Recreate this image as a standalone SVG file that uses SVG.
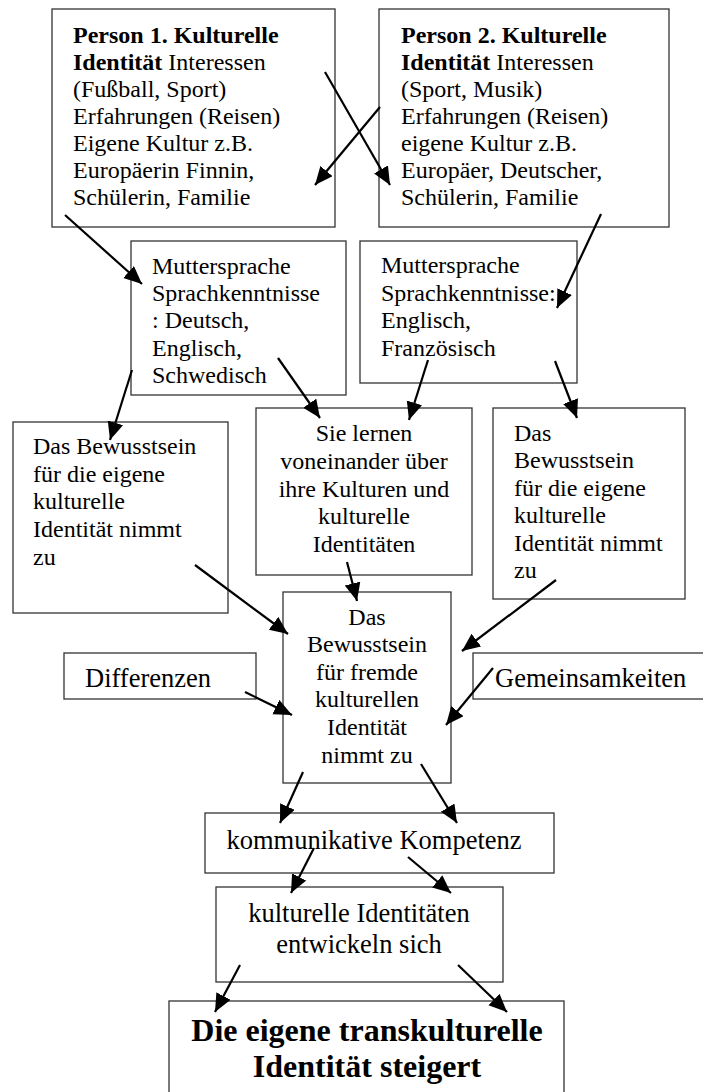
<svg xmlns="http://www.w3.org/2000/svg" width="703" height="1092" viewBox="0 0 703 1092">
<style>
.box{fill:#fff;stroke:#333;stroke-width:1.3}
text{font-family:"Liberation Serif","Times New Roman",serif;font-size:24px;fill:#000}
.m{font-size:26.5px}
.c{text-anchor:middle}
.b{font-weight:bold}
.big{font-size:32px;font-weight:bold;text-anchor:middle}
.arr{stroke:#000;stroke-width:2.2;fill:none;marker-end:url(#ah)}
</style>
<defs>
<marker id="ah" markerUnits="userSpaceOnUse" markerWidth="20" markerHeight="18" refX="18" refY="8" orient="auto">
<path d="M0,0 L18,8 L0,16 z" fill="#000"/>
</marker>
</defs>
<rect width="703" height="1092" fill="#fff"/>
<g id="person1">
<rect class="box" x="52" y="9" width="283" height="218"/>
<text x="73" y="43"><tspan class="b">Person 1. Kulturelle</tspan></text>
<text x="73" y="70"><tspan class="b">Identität</tspan> Interessen</text>
<text x="73" y="97">(Fußball, Sport)</text>
<text x="73" y="124">Erfahrungen (Reisen)</text>
<text x="73" y="151">Eigene Kultur z.B.</text>
<text x="73" y="178">Europäerin Finnin,</text>
<text x="73" y="205">Schülerin, Familie</text>
</g>
<g id="person2">
<rect class="box" x="379" y="9" width="290" height="218"/>
<text x="401" y="43"><tspan class="b">Person 2. Kulturelle</tspan></text>
<text x="401" y="70"><tspan class="b">Identität</tspan> Interessen</text>
<text x="401" y="97">(Sport, Musik)</text>
<text x="401" y="124">Erfahrungen (Reisen)</text>
<text x="401" y="151">eigene Kultur z.B.</text>
<text x="401" y="178">Europäer, Deutscher,</text>
<text x="401" y="205">Schülerin, Familie</text>
</g>
<g id="sprache1">
<rect class="box" x="131" y="241" width="215" height="154"/>
<text x="152" y="274">Muttersprache</text>
<text x="152" y="301">Sprachkenntnisse</text>
<text x="152" y="328">: Deutsch,</text>
<text x="152" y="356">Englisch,</text>
<text x="152" y="383">Schwedisch</text>
</g>
<g id="sprache2">
<rect class="box" x="360" y="241" width="217" height="142"/>
<text x="381" y="273">Muttersprache</text>
<text x="381" y="301">Sprachkenntnisse:</text>
<text x="381" y="328">Englisch,</text>
<text x="381" y="356">Französisch</text>
</g>
<g id="bewusst1">
<rect class="box" x="13" y="422" width="215" height="191"/>
<text x="33" y="454">Das Bewusstsein</text>
<text x="33" y="482">für die eigene</text>
<text x="33" y="509">kulturelle</text>
<text x="33" y="537">Identität nimmt</text>
<text x="33" y="565">zu</text>
</g>
<g id="lernen">
<rect class="box" x="256" y="408" width="216" height="167"/>
<text class="c" x="364" y="441">Sie lernen</text>
<text class="c" x="364" y="469">voneinander über</text>
<text class="c" x="364" y="497">ihre Kulturen und</text>
<text class="c" x="364" y="524">kulturelle</text>
<text class="c" x="364" y="552">Identitäten</text>
</g>
<g id="bewusst2">
<rect class="box" x="493" y="408" width="192" height="191"/>
<text x="514" y="441">Das</text>
<text x="514" y="468">Bewusstsein</text>
<text x="514" y="496">für die eigene</text>
<text x="514" y="523">kulturelle</text>
<text x="514" y="551">Identität nimmt</text>
<text x="514" y="578">zu</text>
</g>
<g id="fremd">
<rect class="box" x="283" y="592" width="168" height="191"/>
<text class="c" x="367" y="625">Das</text>
<text class="c" x="367" y="652">Bewusstsein</text>
<text class="c" x="367" y="680">für fremde</text>
<text class="c" x="367" y="707">kulturellen</text>
<text class="c" x="367" y="735">Identität</text>
<text class="c" x="367" y="763">nimmt zu</text>
</g>
<g id="differenzen">
<rect class="box" x="64" y="653" width="192" height="46"/>
<text class="m" x="85" y="687">Differenzen</text>
</g>
<g id="gemeinsamkeiten">
<rect class="box" x="473" y="653" width="260" height="46"/>
<text class="m" x="495" y="687">Gemeinsamkeiten</text>
</g>
<g id="kompetenz">
<rect class="box" x="205" y="813" width="349" height="60"/>
<text class="m c" x="374" y="849">kommunikative Kompetenz</text>
</g>
<g id="entwickeln">
<rect class="box" x="216" y="887" width="287" height="95"/>
<text class="m c" x="359" y="922">kulturelle Identitäten</text>
<text class="m c" x="359" y="953">entwickeln sich</text>
</g>
<g id="final">
<rect class="box" x="169" y="1001" width="395" height="100"/>
<text class="big" x="367" y="1041">Die eigene transkulturelle</text>
<text class="big" x="367" y="1077">Identität steigert</text>
</g>
<g id="connectors">
<line class="arr" x1="325" y1="72" x2="390" y2="185"/>
<line class="arr" x1="380" y1="107" x2="315" y2="185"/>
<line class="arr" x1="65" y1="215" x2="142" y2="284"/>
<line class="arr" x1="601" y1="214" x2="557" y2="308"/>
<line class="arr" x1="132" y1="370" x2="110" y2="440"/>
<line class="arr" x1="278" y1="358" x2="320" y2="418"/>
<line class="arr" x1="428" y1="360" x2="409" y2="420"/>
<line class="arr" x1="555" y1="361" x2="577" y2="418"/>
<line class="arr" x1="347" y1="562" x2="357" y2="601"/>
<line class="arr" x1="195" y1="565" x2="288" y2="634"/>
<line class="arr" x1="556" y1="580" x2="462" y2="651"/>
<line class="arr" x1="245" y1="692" x2="292" y2="715"/>
<line class="arr" x1="493" y1="668" x2="446" y2="725"/>
<line class="arr" x1="303" y1="772" x2="280" y2="823"/>
<line class="arr" x1="421" y1="764" x2="457" y2="823"/>
<line class="arr" x1="314" y1="848" x2="291" y2="893"/>
<line class="arr" x1="408" y1="857" x2="451" y2="893"/>
<line class="arr" x1="240" y1="965" x2="215" y2="1012"/>
<line class="arr" x1="458" y1="965" x2="507" y2="1012"/>
</g>
</svg>
